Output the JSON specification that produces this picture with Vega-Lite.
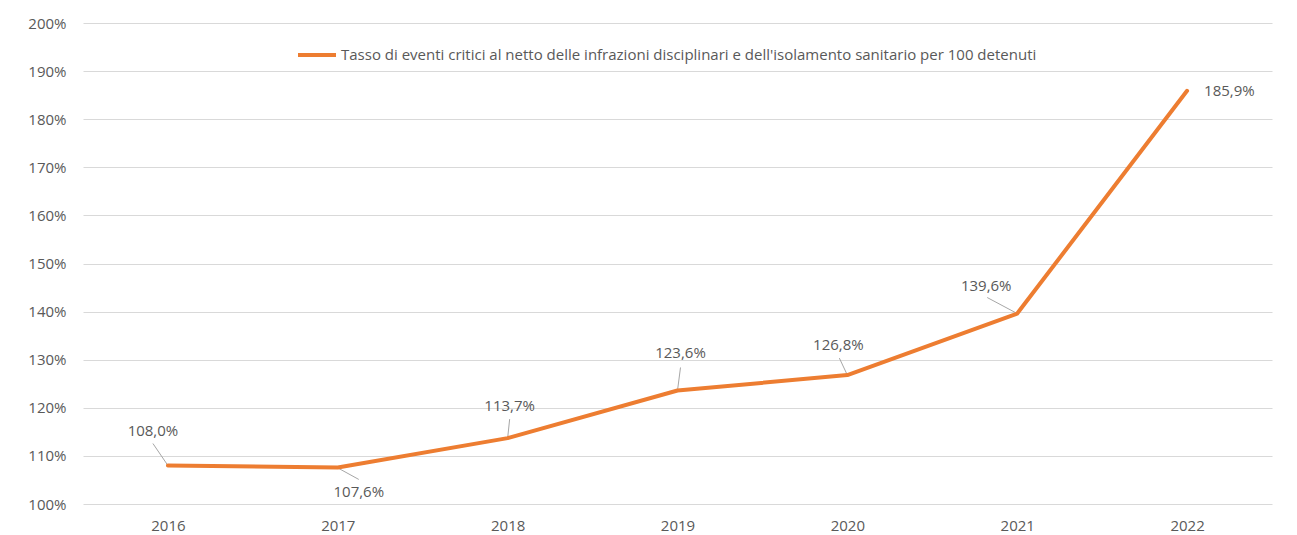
{
  "$schema": "https://vega.github.io/schema/vega-lite/v6.json",
  "autosize": {"type": "none"},
  "width": 1189,
  "height": 481,
  "padding": {"left": 83, "top": 23, "right": 25, "bottom": 31},
  "background": "white",
  "config": {
    "locale": {"number": {"decimal": ",", "thousands": ".", "grouping": [3], "currency": ["€", ""]}},
    "font": "Open Sans",
    "view": {"stroke": null},
    "axis": {"labelFont": "Open Sans", "labelFontSize": 15, "labelColor": "#595959", "domain": false, "ticks": false, "title": null}
  },
  "data": {
    "values": [
      {"year": "2016", "rate": 1.080},
      {"year": "2017", "rate": 1.076},
      {"year": "2018", "rate": 1.137},
      {"year": "2019", "rate": 1.236},
      {"year": "2020", "rate": 1.268},
      {"year": "2021", "rate": 1.396},
      {"year": "2022", "rate": 1.859}
    ]
  },
  "encoding": {
    "x": {"field": "year", "type": "ordinal", "scale": {"type": "point", "padding": 0.5},
      "axis": {"labelAngle": 0, "labelPadding": 14, "grid": false}},
    "y": {"field": "rate", "type": "quantitative", "scale": {"domain": [1, 2], "nice": false, "zero": false},
      "axis": {"values": [1, 1.1, 1.2, 1.3, 1.4, 1.5, 1.6, 1.7, 1.8, 1.9, 2.0], "format": ".0%", "labelPadding": 17, "grid": true, "gridColor": "#D9D9D9", "gridWidth": 1}}
  },
  "layer": [
    {"transform": [{"filter": "datum.year == '2016'"}], "mark": {"type": "rule", "color": "#A6A6A6", "strokeWidth": 1, "x2Offset": -15, "y2Offset": -22},
      "encoding": {"x2": {"field": "year"}, "y2": {"field": "rate"}}},
    {"transform": [{"filter": "datum.year == '2017'"}], "mark": {"type": "rule", "color": "#A6A6A6", "strokeWidth": 1, "xOffset": 1, "yOffset": 1, "x2Offset": 21, "y2Offset": 12},
      "encoding": {"x2": {"field": "year"}, "y2": {"field": "rate"}}},
    {"transform": [{"filter": "datum.year == '2018'"}], "mark": {"type": "rule", "color": "#A6A6A6", "strokeWidth": 1, "x2Offset": 2, "y2Offset": -19},
      "encoding": {"x2": {"field": "year"}, "y2": {"field": "rate"}}},
    {"transform": [{"filter": "datum.year == '2019'"}], "mark": {"type": "rule", "color": "#A6A6A6", "strokeWidth": 1, "x2Offset": 3, "y2Offset": -23},
      "encoding": {"x2": {"field": "year"}, "y2": {"field": "rate"}}},
    {"transform": [{"filter": "datum.year == '2020'"}], "mark": {"type": "rule", "color": "#A6A6A6", "strokeWidth": 1, "x2Offset": -8, "y2Offset": -17},
      "encoding": {"x2": {"field": "year"}, "y2": {"field": "rate"}}},
    {"transform": [{"filter": "datum.year == '2021'"}], "mark": {"type": "rule", "color": "#A6A6A6", "strokeWidth": 1, "x2Offset": -30, "y2Offset": -16},
      "encoding": {"x2": {"field": "year"}, "y2": {"field": "rate"}}},
    {
      "mark": {"type": "line", "strokeWidth": 4, "strokeJoin": "round", "strokeCap": "round"},
      "encoding": {
        "color": {"datum": "Tasso di eventi critici al netto delle infrazioni disciplinari e dell'isolamento sanitario per 100 detenuti",
          "scale": {"range": ["#ED7D31"]},
          "legend": {"orient": "none", "legendX": 213, "legendY": 11, "title": null, "symbolType": "stroke", "symbolSize": 1444, "symbolStrokeWidth": 4, "labelFont": "Open Sans", "labelFontSize": 15, "labelColor": "#595959", "labelLimit": 2000, "labelOffset": 3}}
      }
    },
    {"transform": [{"filter": "datum.year == '2016'"}], "mark": {"type": "text", "fontSize": 15, "color": "#595959", "dx": -15, "dy": -35},
      "encoding": {"text": {"field": "rate", "format": ".1%"}}},
    {"transform": [{"filter": "datum.year == '2017'"}], "mark": {"type": "text", "fontSize": 15, "color": "#595959", "dx": 21, "dy": 25},
      "encoding": {"text": {"field": "rate", "format": ".1%"}}},
    {"transform": [{"filter": "datum.year == '2018'"}], "mark": {"type": "text", "fontSize": 15, "color": "#595959", "dx": 2, "dy": -32},
      "encoding": {"text": {"field": "rate", "format": ".1%"}}},
    {"transform": [{"filter": "datum.year == '2019'"}], "mark": {"type": "text", "fontSize": 15, "color": "#595959", "dx": 3, "dy": -37},
      "encoding": {"text": {"field": "rate", "format": ".1%"}}},
    {"transform": [{"filter": "datum.year == '2020'"}], "mark": {"type": "text", "fontSize": 15, "color": "#595959", "dx": -9, "dy": -30},
      "encoding": {"text": {"field": "rate", "format": ".1%"}}},
    {"transform": [{"filter": "datum.year == '2021'"}], "mark": {"type": "text", "fontSize": 15, "color": "#595959", "dx": -31, "dy": -28},
      "encoding": {"text": {"field": "rate", "format": ".1%"}}},
    {"transform": [{"filter": "datum.year == '2022'"}], "mark": {"type": "text", "fontSize": 15, "color": "#595959", "align": "left", "dx": 17, "dy": 0},
      "encoding": {"text": {"field": "rate", "format": ".1%"}}}
  ]
}
